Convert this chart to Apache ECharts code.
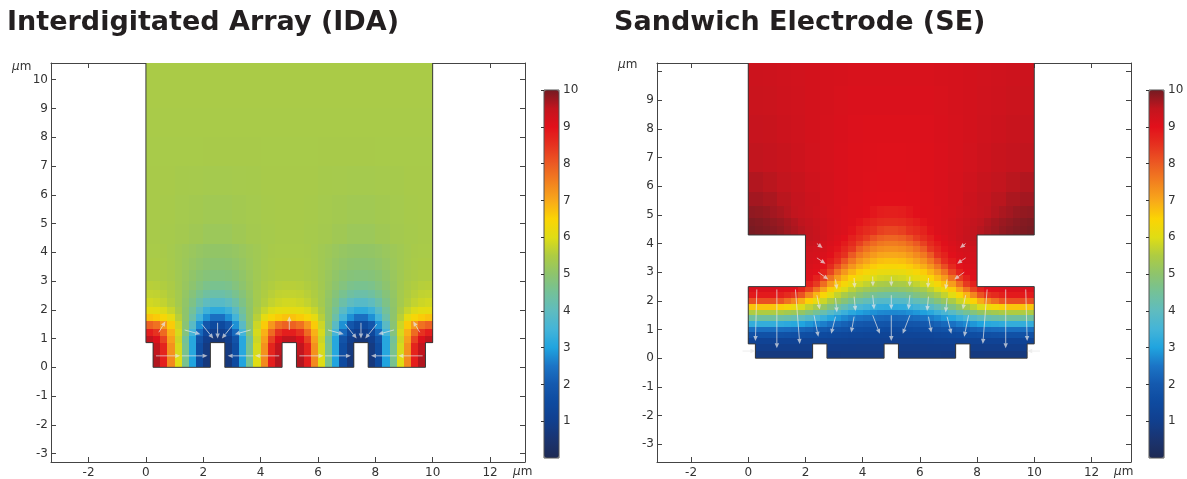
<!DOCTYPE html>
<html>
<head>
<meta charset="utf-8">
<title>IDA vs SE potential</title>
<script src="https://cdn.jsdelivr.net/npm/echarts@6/dist/echarts.min.js"></script>
<style>
html, body { margin: 0; padding: 0; background: #fff; }
#chart { width: 1187px; height: 479px; }
</style>
</head>
<body>
<div id="chart"></div>
<script>
// colour scale for the potential, stops at 0, 0.5, 1 ... 10
var potentialColors = ['#1e2a55', '#1a3470', '#113f8e', '#0e4a9f', '#1459ae', '#1b74c6', '#20a4df',
    '#44b4d8', '#5fbcbf', '#74c198', '#8ec46c', '#aecc42', '#e0dd14', '#fbd404', '#f8a81a',
    '#f2811f', '#ec5a23', '#e6321f', '#e2101b', '#c2151e', '#741b22'];

// tick values (µm)
var xTicks = [-2, 0, 2, 4, 6, 8, 10, 12];
var idaYTicks = [-3, -2, -1, 0, 1, 2, 3, 4, 5, 6, 7, 8, 9, 10];
var seYTicks = [-3, -2, -1, 0, 1, 2, 3, 4, 5, 6, 7, 8, 9, 10];
var seYLabels = [-3, -2, -1, 0, 1, 2, 3, 4, 5, 6, 7, 8, 9];
var barTicks = [1, 2, 3, 4, 5, 6, 7, 8, 9, 10];

// outlines of the two simulation domains (µm)
var idaOutline = [[0, 10.58], [0, 0.86], [0.25, 0.86], [0.25, 0], [2.25, 0], [2.25, 0.86], [2.75, 0.86],
    [2.75, 0], [4.75, 0], [4.75, 0.86], [5.25, 0.86], [5.25, 0], [7.25, 0], [7.25, 0.86], [7.75, 0.86],
    [7.75, 0], [9.75, 0], [9.75, 0.86], [10, 0.86], [10, 10.58]];
var seOutline = [[0, 10.3], [0, 4.3], [2, 4.3], [2, 2.5], [0, 2.5], [0, 0.5], [0.25, 0.5], [0.25, 0],
    [2.25, 0], [2.25, 0.5], [2.75, 0.5], [2.75, 0], [4.75, 0], [4.75, 0.5], [5.25, 0.5], [5.25, 0],
    [7.25, 0], [7.25, 0.5], [7.75, 0.5], [7.75, 0], [9.75, 0], [9.75, 0.5], [10, 0.5], [10, 2.5],
    [8, 2.5], [8, 4.3], [10, 4.3], [10, 10.3]];

// ---- IDA potential, read row by row (null = electrode) ----
var idaStripY = [0, 0.43, 0.86];
var idaStripX = [0.25, 9.75];
var idaStripRows = [
    [9.6, 8.8, 7.4, 6.0, 4.6, 3.0, 1.5, 0.7, null, null, 0.7, 1.5, 3.0, 4.6, 6.0, 7.4, 8.8, 9.6, null, null,
     9.6, 8.8, 7.4, 6.0, 4.6, 3.0, 1.5, 0.7, null, null, 0.7, 1.5, 3.0, 4.6, 6.0, 7.4, 8.8, 9.6],
    [9.5, 8.7, 7.3, 5.9, 4.6, 3.1, 1.6, 0.8, null, null, 0.8, 1.6, 3.1, 4.6, 5.9, 7.3, 8.7, 9.5, null, null,
     9.5, 8.7, 7.3, 5.9, 4.6, 3.1, 1.6, 0.8, null, null, 0.8, 1.6, 3.1, 4.6, 5.9, 7.3, 8.7, 9.5]
];

var idaNearY = [0.86, 1.1, 1.35, 1.6, 1.85, 2.1, 2.4, 2.7, 3.0, 3.4, 3.8, 4.3];
var idaNearX = [0, 10];
var idaNearRows = [
    [9.5, 9.1, 8.3, 7.1, 5.8, 4.5, 3.1, 1.8, 1.0, 0.7, 0.7, 1.0, 1.8, 3.1, 4.5, 5.8, 7.1, 8.3, 9.1, 9.5,
     9.5, 9.1, 8.3, 7.1, 5.8, 4.5, 3.1, 1.8, 1.0, 0.7, 0.7, 1.0, 1.8, 3.1, 4.5, 5.8, 7.1, 8.3, 9.1, 9.5],
    [8.8, 8.5, 7.8, 6.9, 5.9, 4.8, 3.5, 2.3, 1.4, 1.0, 1.0, 1.4, 2.3, 3.5, 4.8, 5.9, 6.9, 7.8, 8.5, 8.8,
     8.8, 8.5, 7.8, 6.9, 5.9, 4.8, 3.5, 2.3, 1.4, 1.0, 1.0, 1.4, 2.3, 3.5, 4.8, 5.9, 6.9, 7.8, 8.5, 8.8],
    [7.9, 7.7, 7.2, 6.6, 5.8, 4.9, 3.9, 2.8, 1.9, 1.5, 1.5, 1.9, 2.8, 3.9, 4.9, 5.8, 6.6, 7.2, 7.7, 7.9,
     7.9, 7.7, 7.2, 6.6, 5.8, 4.9, 3.9, 2.8, 1.9, 1.5, 1.5, 1.9, 2.8, 3.9, 4.9, 5.8, 6.6, 7.2, 7.7, 7.9],
    [6.7, 6.6, 6.4, 6.1, 5.6, 5.0, 4.3, 3.5, 2.8, 2.4, 2.4, 2.8, 3.5, 4.3, 5.0, 5.6, 6.1, 6.4, 6.6, 6.7,
     6.7, 6.6, 6.4, 6.1, 5.6, 5.0, 4.3, 3.5, 2.8, 2.4, 2.4, 2.8, 3.5, 4.3, 5.0, 5.6, 6.1, 6.4, 6.6, 6.7],
    [6.1, 6.05, 5.95, 5.75, 5.45, 5.0, 4.5, 3.9, 3.4, 3.2, 3.2, 3.4, 3.9, 4.5, 5.0, 5.45, 5.75, 5.95, 6.05, 6.1,
     6.1, 6.05, 5.95, 5.75, 5.45, 5.0, 4.5, 3.9, 3.4, 3.2, 3.2, 3.4, 3.9, 4.5, 5.0, 5.45, 5.75, 5.95, 6.05, 6.1],
    [5.85, 5.8, 5.7, 5.55, 5.35, 5.05, 4.7, 4.3, 4.0, 3.85, 3.85, 4.0, 4.3, 4.7, 5.05, 5.35, 5.55, 5.7, 5.8, 5.85,
     5.85, 5.8, 5.7, 5.55, 5.35, 5.05, 4.7, 4.3, 4.0, 3.85, 3.85, 4.0, 4.3, 4.7, 5.05, 5.35, 5.55, 5.7, 5.8, 5.85],
    [5.7, 5.68, 5.6, 5.5, 5.35, 5.1, 4.85, 4.6, 4.4, 4.3, 4.3, 4.4, 4.6, 4.85, 5.1, 5.35, 5.5, 5.6, 5.68, 5.7,
     5.7, 5.68, 5.6, 5.5, 5.35, 5.1, 4.85, 4.6, 4.4, 4.3, 4.3, 4.4, 4.6, 4.85, 5.1, 5.35, 5.5, 5.6, 5.68, 5.7],
    [5.6, 5.58, 5.52, 5.45, 5.32, 5.15, 4.98, 4.8, 4.65, 4.6, 4.6, 4.65, 4.8, 4.98, 5.15, 5.32, 5.45, 5.52, 5.58, 5.6,
     5.6, 5.58, 5.52, 5.45, 5.32, 5.15, 4.98, 4.8, 4.65, 4.6, 4.6, 4.65, 4.8, 4.98, 5.15, 5.32, 5.45, 5.52, 5.58, 5.6],
    [5.5, 5.5, 5.45, 5.4, 5.3, 5.18, 5.05, 4.93, 4.85, 4.82, 4.82, 4.85, 4.93, 5.05, 5.18, 5.3, 5.4, 5.45, 5.5, 5.5,
     5.5, 5.5, 5.45, 5.4, 5.3, 5.18, 5.05, 4.93, 4.85, 4.82, 4.82, 4.85, 4.93, 5.05, 5.18, 5.3, 5.4, 5.45, 5.5, 5.5],
    [5.45, 5.45, 5.42, 5.37, 5.3, 5.22, 5.12, 5.04, 4.98, 4.96, 4.96, 4.98, 5.04, 5.12, 5.22, 5.3, 5.37, 5.42, 5.45, 5.45,
     5.45, 5.45, 5.42, 5.37, 5.3, 5.22, 5.12, 5.04, 4.98, 4.96, 4.96, 4.98, 5.04, 5.12, 5.22, 5.3, 5.37, 5.42, 5.45, 5.45],
    [5.42, 5.42, 5.4, 5.36, 5.3, 5.25, 5.18, 5.12, 5.08, 5.07, 5.07, 5.08, 5.12, 5.18, 5.25, 5.3, 5.36, 5.4, 5.42, 5.42,
     5.42, 5.42, 5.4, 5.36, 5.3, 5.25, 5.18, 5.12, 5.08, 5.07, 5.07, 5.08, 5.12, 5.18, 5.25, 5.3, 5.36, 5.4, 5.42, 5.42]
];

var idaMidY = [4.3, 5, 6, 7];
var idaMidX = [0, 10];
var idaMidRows = [
    [5.4, 5.38, 5.34, 5.28, 5.22, 5.22, 5.28, 5.34, 5.38, 5.4, 5.4, 5.38, 5.34, 5.28, 5.22, 5.22, 5.28, 5.34, 5.38, 5.4],
    [5.4, 5.39, 5.36, 5.33, 5.3, 5.3, 5.33, 5.36, 5.39, 5.4, 5.4, 5.39, 5.36, 5.33, 5.3, 5.3, 5.33, 5.36, 5.39, 5.4],
    [5.4, 5.4, 5.38, 5.37, 5.36, 5.36, 5.37, 5.38, 5.4, 5.4, 5.4, 5.4, 5.38, 5.37, 5.36, 5.36, 5.37, 5.38, 5.4, 5.4]
];

var idaFarY = [7, 8, 9, 10, 10.58];
var idaFarX = [0, 10];
var idaFarRows = [
    [5.41, 5.41, 5.4, 5.4, 5.41, 5.41, 5.4, 5.4, 5.41, 5.41],
    [5.42, 5.42, 5.42, 5.42, 5.42, 5.42, 5.42, 5.42, 5.42, 5.42],
    [5.43, 5.43, 5.43, 5.43, 5.43, 5.43, 5.43, 5.43, 5.43, 5.43],
    [5.44, 5.44, 5.44, 5.44, 5.44, 5.44, 5.44, 5.44, 5.44, 5.44]
];

// ---- SE potential ----
var seStripY = [0, 0.25, 0.5];
var seStripX = [0.25, 9.75];
var seStripRows = [
    [0.75, 0.75, 0.75, 0.76, null, 0.78, 0.8, 0.8, 0.8, null, 0.8, 0.8, 0.8, 0.78, null, 0.76, 0.75, 0.75, 0.75],
    [0.95, 0.95, 0.95, 0.94, null, 0.93, 0.92, 0.9, 0.9, null, 0.9, 0.9, 0.92, 0.93, null, 0.94, 0.95, 0.95, 0.95]
];

var seLowerY = [0.5, 0.7, 0.9, 1.1, 1.3, 1.5, 1.7, 1.9, 2.1, 2.3, 2.5];
var seLowerX = [0, 10];
var seLowerRows = [
    [1.2, 1.2, 1.2, 1.2, 1.2, 1.2, 1.2, 1.19, 1.18, 1.17, 1.15, 1.15, 1.13, 1.12, 1.11, 1.1, 1.09, 1.08, 1.08, 1.08,
     1.08, 1.08, 1.08, 1.09, 1.1, 1.11, 1.12, 1.13, 1.15, 1.15, 1.17, 1.18, 1.19, 1.2, 1.2, 1.2, 1.2, 1.2, 1.2, 1.2],
    [1.72, 1.72, 1.72, 1.72, 1.72, 1.71, 1.68, 1.63, 1.6, 1.55, 1.5, 1.45, 1.4, 1.37, 1.33, 1.31, 1.29, 1.28, 1.26, 1.26,
     1.26, 1.26, 1.28, 1.29, 1.31, 1.33, 1.37, 1.4, 1.45, 1.5, 1.55, 1.6, 1.63, 1.68, 1.71, 1.72, 1.72, 1.72, 1.72, 1.72],
    [2.4, 2.4, 2.4, 2.4, 2.38, 2.35, 2.31, 2.23, 2.14, 2.03, 1.95, 1.87, 1.79, 1.72, 1.65, 1.61, 1.57, 1.53, 1.52, 1.5,
     1.5, 1.52, 1.53, 1.57, 1.61, 1.65, 1.72, 1.79, 1.87, 1.95, 2.03, 2.14, 2.23, 2.31, 2.35, 2.38, 2.4, 2.4, 2.4, 2.4],
    [3.28, 3.28, 3.28, 3.28, 3.22, 3.17, 3.11, 3.0, 2.86, 2.72, 2.6, 2.44, 2.29, 2.17, 2.05, 1.96, 1.91, 1.88, 1.85, 1.83,
     1.83, 1.85, 1.88, 1.91, 1.96, 2.05, 2.17, 2.29, 2.44, 2.6, 2.72, 2.86, 3.0, 3.11, 3.17, 3.22, 3.28, 3.28, 3.28, 3.28],
    [4.41, 4.41, 4.41, 4.41, 4.35, 4.28, 4.17, 4.0, 3.8, 3.57, 3.35, 3.08, 2.88, 2.72, 2.58, 2.46, 2.38, 2.31, 2.26, 2.23,
     2.23, 2.26, 2.31, 2.38, 2.46, 2.58, 2.72, 2.88, 3.08, 3.35, 3.57, 3.8, 4.0, 4.17, 4.28, 4.35, 4.41, 4.41, 4.41, 4.41],
    [5.5, 5.5, 5.5, 5.5, 5.45, 5.33, 5.24, 5.09, 4.8, 4.52, 4.23, 3.88, 3.62, 3.37, 3.14, 2.97, 2.88, 2.79, 2.72, 2.7,
     2.7, 2.72, 2.79, 2.88, 2.97, 3.14, 3.37, 3.62, 3.88, 4.23, 4.52, 4.8, 5.09, 5.24, 5.33, 5.45, 5.5, 5.5, 5.5, 5.5],
    [6.67, 6.67, 6.67, 6.67, 6.56, 6.38, 6.22, 5.96, 5.67, 5.38, 5.1, 4.74, 4.4, 4.11, 3.83, 3.61, 3.47, 3.33, 3.24, 3.21,
     3.21, 3.24, 3.33, 3.47, 3.61, 3.83, 4.11, 4.4, 4.74, 5.1, 5.38, 5.67, 5.96, 6.22, 6.38, 6.56, 6.67, 6.67, 6.67, 6.67],
    [8.14, 8.14, 8.14, 8.14, 8.04, 7.71, 7.4, 6.95, 6.52, 6.14, 5.79, 5.44, 5.14, 4.85, 4.54, 4.27, 4.1, 3.94, 3.82, 3.79,
     3.79, 3.82, 3.94, 4.1, 4.27, 4.54, 4.85, 5.14, 5.44, 5.79, 6.14, 6.52, 6.95, 7.4, 7.71, 8.04, 8.14, 8.14, 8.14, 8.14],
    [8.85, 8.85, 8.85, 8.85, 8.76, 8.61, 8.46, 8.08, 7.43, 6.86, 6.44, 6.05, 5.71, 5.42, 5.17, 4.93, 4.74, 4.56, 4.44, 4.39,
     4.39, 4.44, 4.56, 4.74, 4.93, 5.17, 5.42, 5.71, 6.05, 6.44, 6.86, 7.43, 8.08, 8.46, 8.61, 8.76, 8.85, 8.85, 8.85, 8.85],
    [9.12, 9.12, 9.12, 9.12, 9.1, 9.05, 8.98, 8.7, 8.29, 7.67, 7.07, 6.59, 6.23, 5.95, 5.66, 5.41, 5.26, 5.13, 5.04, 5.0,
     5.0, 5.04, 5.13, 5.26, 5.41, 5.66, 5.95, 6.23, 6.59, 7.07, 7.67, 8.29, 8.7, 8.98, 9.05, 9.1, 9.12, 9.12, 9.12, 9.12]
];

var seNeckY = [2.5, 2.7, 2.9, 3.1, 3.3, 3.5, 3.7, 3.9, 4.1, 4.3];
var seNeckX = [2, 8];
var seNeckRows = [
    [8.75, 8.4, 7.76, 7.14, 6.7, 6.38, 6.11, 5.86, 5.7, 5.54, 5.44, 5.4, 5.4, 5.44, 5.54, 5.7, 5.86, 6.11, 6.38, 6.7, 7.14, 7.76, 8.4, 8.75],
    [9.05, 8.75, 8.38, 7.71, 7.17, 6.79, 6.48, 6.24, 6.1, 5.96, 5.84, 5.8, 5.8, 5.84, 5.96, 6.1, 6.24, 6.48, 6.79, 7.17, 7.71, 8.38, 8.75, 9.05],
    [9.1, 9.02, 8.71, 8.26, 7.66, 7.21, 6.85, 6.58, 6.41, 6.27, 6.17, 6.14, 6.14, 6.17, 6.27, 6.41, 6.58, 6.85, 7.21, 7.66, 8.26, 8.71, 9.02, 9.1],
    [9.15, 9.08, 8.96, 8.62, 8.15, 7.64, 7.23, 6.92, 6.73, 6.58, 6.46, 6.43, 6.43, 6.46, 6.58, 6.73, 6.92, 7.23, 7.64, 8.15, 8.62, 8.96, 9.08, 9.15],
    [9.2, 9.14, 9.05, 8.84, 8.56, 8.07, 7.62, 7.26, 7.05, 6.88, 6.75, 6.71, 6.71, 6.75, 6.88, 7.05, 7.26, 7.62, 8.07, 8.56, 8.84, 9.05, 9.14, 9.2],
    [9.25, 9.2, 9.12, 9.02, 8.74, 8.51, 8.0, 7.6, 7.37, 7.18, 7.04, 7.0, 7.0, 7.04, 7.18, 7.37, 7.6, 8.0, 8.51, 8.74, 9.02, 9.12, 9.2, 9.25],
    [9.3, 9.25, 9.18, 9.08, 8.93, 8.67, 8.42, 7.95, 7.68, 7.48, 7.34, 7.29, 7.29, 7.34, 7.48, 7.68, 7.95, 8.42, 8.67, 8.93, 9.08, 9.18, 9.25, 9.3],
    [9.4, 9.33, 9.24, 9.14, 9.03, 8.84, 8.62, 8.31, 8.0, 7.79, 7.63, 7.57, 7.57, 7.63, 7.79, 8.0, 8.31, 8.62, 8.84, 9.03, 9.14, 9.24, 9.33, 9.4],
    [9.5, 9.42, 9.32, 9.2, 9.1, 9.0, 8.76, 8.57, 8.37, 8.11, 7.93, 7.86, 7.86, 7.93, 8.11, 8.37, 8.57, 8.76, 9.0, 9.1, 9.2, 9.32, 9.42, 9.5]
];

var seTopNearY = [4.3, 4.6, 4.9, 5.3];
var seTopNearX = [0, 10];
var seTopNearRows = [
    [9.97, 9.93, 9.9, 9.85, 9.8, 9.72, 9.65, 9.57, 9.5, 9.4, 9.3, 9.22, 9.15, 9.1, 8.94, 8.73, 8.61, 8.52, 8.33, 8.25,
     8.25, 8.33, 8.52, 8.61, 8.73, 8.94, 9.1, 9.15, 9.22, 9.3, 9.4, 9.5, 9.57, 9.65, 9.72, 9.8, 9.85, 9.9, 9.93, 9.97],
    [9.92, 9.9, 9.85, 9.8, 9.75, 9.68, 9.6, 9.52, 9.45, 9.38, 9.3, 9.22, 9.15, 9.1, 9.05, 8.93, 8.8, 8.69, 8.61, 8.58,
     8.58, 8.61, 8.69, 8.8, 8.93, 9.05, 9.1, 9.15, 9.22, 9.3, 9.38, 9.45, 9.52, 9.6, 9.68, 9.75, 9.8, 9.85, 9.9, 9.92],
    [9.82, 9.8, 9.76, 9.7, 9.65, 9.58, 9.5, 9.44, 9.38, 9.32, 9.25, 9.19, 9.14, 9.1, 9.07, 9.04, 9.0, 8.9, 8.81, 8.78,
     8.78, 8.81, 8.9, 9.0, 9.04, 9.07, 9.1, 9.14, 9.19, 9.25, 9.32, 9.38, 9.44, 9.5, 9.58, 9.65, 9.7, 9.76, 9.8, 9.82]
];

var seTopFarY = [5.3, 5.8, 6.5, 7.5, 8.5, 9.5, 10.3];
var seTopFarX = [0, 10];
var seTopFarRows = [
    [9.7, 9.65, 9.55, 9.45, 9.35, 9.2, 9.12, 9.06, 9.02, 9.0, 9.0, 9.02, 9.06, 9.12, 9.2, 9.35, 9.45, 9.55, 9.65, 9.7],
    [9.6, 9.55, 9.48, 9.4, 9.3, 9.2, 9.12, 9.08, 9.05, 9.03, 9.03, 9.05, 9.08, 9.12, 9.2, 9.3, 9.4, 9.48, 9.55, 9.6],
    [9.5, 9.45, 9.4, 9.33, 9.25, 9.18, 9.12, 9.08, 9.06, 9.05, 9.05, 9.06, 9.08, 9.12, 9.18, 9.25, 9.33, 9.4, 9.45, 9.5],
    [9.42, 9.4, 9.35, 9.3, 9.24, 9.18, 9.14, 9.1, 9.08, 9.08, 9.08, 9.08, 9.1, 9.14, 9.18, 9.24, 9.3, 9.35, 9.4, 9.42],
    [9.38, 9.36, 9.32, 9.28, 9.24, 9.2, 9.16, 9.13, 9.12, 9.12, 9.12, 9.12, 9.13, 9.16, 9.2, 9.24, 9.28, 9.32, 9.36, 9.38],
    [9.35, 9.33, 9.3, 9.27, 9.24, 9.21, 9.18, 9.16, 9.15, 9.15, 9.15, 9.15, 9.16, 9.18, 9.21, 9.24, 9.27, 9.3, 9.33, 9.35]
];

// field arrows [xFrom, yFrom, xTo, yTo] (µm)
var idaArrows = [
    [0.35, 0.4, 1.2, 0.4], [1.25, 0.4, 2.15, 0.4], [4.65, 0.4, 3.8, 0.4], [3.75, 0.4, 2.85, 0.4],
    [5.35, 0.4, 6.2, 0.4], [6.25, 0.4, 7.15, 0.4], [9.65, 0.4, 8.8, 0.4], [8.75, 0.4, 7.85, 0.4],
    [1.95, 1.5, 2.35, 1.0], [2.5, 1.55, 2.5, 1.0], [3.05, 1.5, 2.65, 1.0], [1.35, 1.3, 1.9, 1.15], [3.65, 1.3, 3.1, 1.15],
    [6.95, 1.5, 7.35, 1.0], [7.5, 1.55, 7.5, 1.0], [8.05, 1.5, 7.65, 1.0], [6.35, 1.3, 6.9, 1.15], [8.65, 1.3, 8.1, 1.15],
    [0.45, 1.22, 0.68, 1.6], [5, 1.3, 5, 1.78], [9.55, 1.22, 9.32, 1.6]
];
var seArrows = [
    [0.3, 2.4, 0.25, 0.6], [1.0, 2.4, 1.0, 0.35], [1.65, 2.4, 1.8, 0.5],
    [8.35, 2.4, 8.2, 0.5], [9.0, 2.4, 9.0, 0.35], [9.7, 2.4, 9.75, 0.6],
    [-0.2, 0.25, 0.25, 0.25], [10.2, 0.25, 9.75, 0.25],
    [2.4, 4.0, 2.6, 3.85], [2.4, 3.5, 2.7, 3.3], [2.45, 3.0, 2.8, 2.75],
    [7.6, 4.0, 7.4, 3.85], [7.6, 3.5, 7.3, 3.3], [7.55, 3.0, 7.2, 2.75],
    [3.05, 2.75, 3.1, 2.4], [3.7, 2.8, 3.72, 2.45], [4.35, 2.85, 4.36, 2.5], [5, 2.85, 5, 2.5],
    [5.65, 2.85, 5.64, 2.5], [6.3, 2.8, 6.28, 2.45], [6.95, 2.75, 6.9, 2.4],
    [2.4, 2.2, 2.5, 1.7], [3.05, 2.1, 3.1, 1.6], [3.7, 2.15, 3.75, 1.65], [4.35, 2.2, 4.4, 1.7], [5, 2.2, 5, 1.7],
    [5.65, 2.2, 5.6, 1.7], [6.3, 2.15, 6.25, 1.65], [6.95, 2.1, 6.9, 1.6], [7.6, 2.2, 7.5, 1.7],
    [2.3, 1.5, 2.45, 0.75], [3.05, 1.45, 2.9, 0.85], [3.7, 1.45, 3.6, 0.9], [4.35, 1.5, 4.6, 0.85], [5, 1.5, 5, 0.6],
    [5.65, 1.5, 5.4, 0.85], [6.3, 1.45, 6.4, 0.9], [6.95, 1.45, 7.1, 0.85], [7.7, 1.5, 7.55, 0.75]
];

// turn rows of readings into cells [x0, x1, y0, y1, value]
function toCells(yEdges, xSpan, rows, out) {
    rows.forEach(function (row, i) {
        var w = (xSpan[1] - xSpan[0]) / row.length;
        row.forEach(function (v, j) {
            if (v === null) return;
            out.push([xSpan[0] + j * w, xSpan[0] + (j + 1) * w, yEdges[i], yEdges[i + 1], v]);
        });
    });
    return out;
}

var idaCells = [];
toCells(idaStripY, idaStripX, idaStripRows, idaCells);
toCells(idaNearY, idaNearX, idaNearRows, idaCells);
toCells(idaMidY, idaMidX, idaMidRows, idaCells);
toCells(idaFarY, idaFarX, idaFarRows, idaCells);

var seCells = [];
toCells(seStripY, seStripX, seStripRows, seCells);
toCells(seLowerY, seLowerX, seLowerRows, seCells);
toCells(seNeckY, seNeckX, seNeckRows, seCells);
toCells(seTopNearY, seTopNearX, seTopNearRows, seCells);
toCells(seTopFarY, seTopFarX, seTopFarRows, seCells);

function renderCell(params, api) {
    var a = api.coord([api.value(0), api.value(3)]);
    var b = api.coord([api.value(1), api.value(2)]);
    var x0 = Math.round(a[0]), y0 = Math.round(a[1]);
    var x1 = Math.round(b[0]), y1 = Math.round(b[1]);
    return {
        type: 'rect',
        shape: {x: x0, y: y0, width: x1 - x0, height: y1 - y0},
        style: {fill: api.visual('color')}
    };
}

function renderArrow(params, api) {
    var a = api.coord([api.value(0), api.value(1)]);
    var b = api.coord([api.value(2), api.value(3)]);
    var ang = Math.atan2(b[1] - a[1], b[0] - a[0]);
    var hl = 5, hw = 2.2;
    var bx = b[0] - hl * Math.cos(ang), by = b[1] - hl * Math.sin(ang);
    var px = -Math.sin(ang) * hw, py = Math.cos(ang) * hw;
    var col = 'rgba(230,230,230,0.72)';
    return {
        type: 'group',
        children: [
            {type: 'line', shape: {x1: a[0], y1: a[1], x2: bx, y2: by}, style: {stroke: col, lineWidth: 1}},
            {type: 'polygon', shape: {points: [[b[0], b[1]], [bx + px, by + py], [bx - px, by - py]]}, style: {fill: col}}
        ]
    };
}

var textFont = 'DejaVu Sans';
var lineCol = '#444';

function valueAxis(grid, pos, min, max, ticks, labels) {
    return {
        type: 'value', gridIndex: grid, position: pos, min: min, max: max,
        splitLine: {show: false},
        axisLine: {onZero: false, lineStyle: {color: lineCol, width: 1}},
        axisTick: {inside: true, length: 5, customValues: ticks, lineStyle: {color: lineCol}},
        axisLabel: labels ? {customValues: labels, margin: (pos === 'left' ? 3 : 5),
            fontFamily: textFont, fontSize: 12, color: '#333'} : {show: false}
    };
}

function barAxis(grid) {
    return {
        type: 'value', gridIndex: grid, position: 'right', min: 0, max: 10, z: 12,
        splitLine: {show: false}, axisLine: {show: false},
        axisTick: {inside: true, length: 3, customValues: barTicks, lineStyle: {color: '#333'}},
        axisLabel: {customValues: barTicks, margin: 4, fontFamily: textFont, fontSize: 12, color: '#333'}
    };
}

function unitText(x, y) {
    return {
        type: 'text', left: x, top: y, silent: true,
        style: {
            text: '{i|µ}m', fill: '#333', fontFamily: textFont, fontSize: 12,
            rich: {i: {fontStyle: 'italic', fontFamily: textFont, fontSize: 12, fill: '#333'}}
        }
    };
}

var chart = echarts.init(document.getElementById('chart'));

var option = {
    animation: false,
    backgroundColor: '#fff',
    title: [
        {text: 'Interdigitated Array (IDA)', left: 7, top: 9, padding: 0,
         textStyle: {fontFamily: textFont, fontWeight: 'bold', fontSize: 27, color: '#231f20'}},
        {text: 'Sandwich Electrode (SE)', left: 614, top: 9, padding: 0,
         textStyle: {fontFamily: textFont, fontWeight: 'bold', fontSize: 27, color: '#231f20'}}
    ],
    grid: [
        {left: 51, top: 63, width: 474, height: 399},
        {left: 657, top: 63, width: 474, height: 399},
        {left: 544, top: 90, width: 15, height: 368, show: true, borderColor: '#555', borderWidth: 1, backgroundColor: 'transparent', z: 10},
        {left: 1149, top: 90, width: 15, height: 368, show: true, borderColor: '#555', borderWidth: 1, backgroundColor: 'transparent', z: 10}
    ],
    xAxis: [
        valueAxis(0, 'bottom', -3.31, 13.22, xTicks, xTicks),
        valueAxis(0, 'top', -3.31, 13.22, xTicks, null),
        valueAxis(1, 'bottom', -3.19, 13.38, xTicks, xTicks),
        valueAxis(1, 'top', -3.19, 13.38, xTicks, null),
        {type: 'value', gridIndex: 2, min: 0, max: 1, show: false},
        {type: 'value', gridIndex: 3, min: 0, max: 1, show: false}
    ],
    yAxis: [
        valueAxis(0, 'left', -3.29, 10.58, idaYTicks, idaYTicks),
        valueAxis(0, 'right', -3.29, 10.58, idaYTicks, null),
        valueAxis(1, 'left', -3.62, 10.3, seYTicks, seYLabels),
        valueAxis(1, 'right', -3.62, 10.3, seYTicks, null),
        barAxis(2),
        barAxis(3)
    ],
    visualMap: [
        {type: 'continuous', min: 0, max: 10, dimension: 4, seriesIndex: 0, calculable: false, hoverLink: false,
         left: 544, top: 90, itemWidth: 15, itemHeight: 368, padding: 0, z: 1,
         inRange: {color: potentialColors}},
        {type: 'continuous', min: 0, max: 10, dimension: 4, seriesIndex: 3, calculable: false, hoverLink: false,
         left: 1149, top: 90, itemWidth: 15, itemHeight: 368, padding: 0, z: 1,
         inRange: {color: potentialColors}}
    ],
    graphic: [
        unitText(12, 61),
        unitText(513, 466),
        unitText(618, 59),
        unitText(1114, 466)
    ],
    series: [
        {type: 'custom', xAxisIndex: 0, yAxisIndex: 0, renderItem: renderCell, data: idaCells, z: 2, silent: true},
        {type: 'line', xAxisIndex: 0, yAxisIndex: 0, data: idaOutline, symbol: 'none', z: 3, silent: true,
         lineStyle: {color: '#3a3a3a', width: 1}},
        {type: 'custom', xAxisIndex: 0, yAxisIndex: 0, renderItem: renderArrow, data: idaArrows, z: 4, silent: true},
        {type: 'custom', xAxisIndex: 2, yAxisIndex: 2, renderItem: renderCell, data: seCells, z: 2, silent: true},
        {type: 'line', xAxisIndex: 2, yAxisIndex: 2, data: seOutline, symbol: 'none', z: 3, silent: true,
         lineStyle: {color: '#3a3a3a', width: 1}},
        {type: 'custom', xAxisIndex: 2, yAxisIndex: 2, renderItem: renderArrow, data: seArrows, z: 4, silent: true}
    ]
};

chart.setOption(option);
</script>
</body>
</html>
